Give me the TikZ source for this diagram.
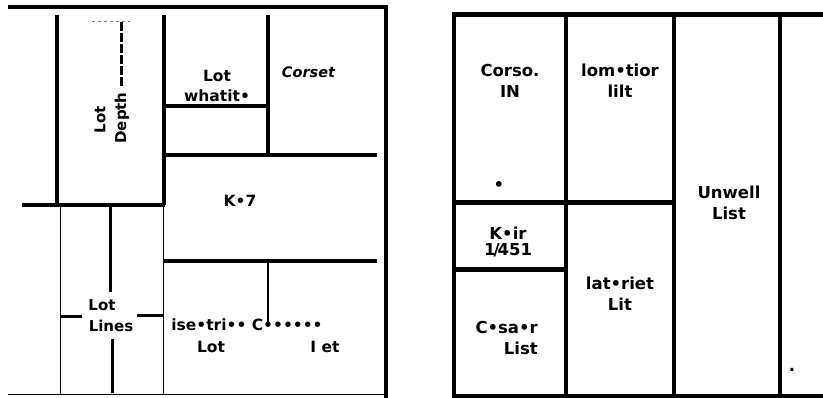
\documentclass[tikz,border=0pt]{standalone}
\usepackage{fontspec}
\setmainfont{DejaVu Sans}
\begin{document}
\begin{tikzpicture}[x=1pt,y=-1pt,
  wall/.style={line width=4pt},
  thinwall/.style={line width=0.9pt},
  stroke/.style={line width=3pt},
  rwall/.style={line width=4.5pt},
  lbl/.style={font=\fontsize{15.5}{20}\selectfont\bfseries,inner sep=0pt,align=center},
  rlbl/.style={font=\fontsize{16.5}{21}\selectfont\bfseries,inner sep=0pt,align=center},
  hand/.style={font=\fontsize{15}{15}\selectfont\bfseries,inner sep=0pt}]
\useasboundingbox (0,0) rectangle (823,398);
% left plan
\draw[wall] (8,7.5) -- (388,7.5);
\draw[wall] (386,5.5) -- (386,398);
\draw[thinwall] (8,394) -- (386,394);
\draw[wall] (57,15) -- (57,205);
\draw[wall] (163.5,15) -- (163.5,205);
\draw[wall] (22,205) -- (165,205);
\draw[thinwall] (60,205) -- (60,394);
\draw[thinwall] (163.5,205) -- (163.5,394);
\draw[wall] (163.5,106) -- (267.5,106);
\draw[wall] (267.5,15) -- (267.5,157);
\draw[wall] (163.5,155) -- (377,155);
\draw[wall] (163.5,261) -- (377,261);
\draw[line width=2pt] (267.5,261) -- (267.5,323);
% lot depth
\draw[line width=0.6pt,gray,dashed] (92,21) -- (130,21);
\draw[stroke,dash pattern=on 9pt off 2pt] (121.5,22) -- (121.5,87);
\node[hand,rotate=90] (depthlot) at (100,120) {Lot};
\node[hand,rotate=90] (depthtxt) at (122,118) {Depth};
% lot lines
\draw[stroke] (110,207) -- (110,292);
\draw[stroke] (112,339) -- (112,393);
\draw[stroke] (60,317) -- (82,317);
\draw[stroke] (137,316) -- (163,316);
\node[hand] (linelot) at (102,305) {Lot};
\node[hand] (linetxt) at (111,326) {Lines};
% left labels
\node[lbl] (whatit) at (217,86) {Lot\\whatit•};
\node[lbl,font=\fontsize{14.5}{20}\selectfont\bfseries\itshape] (corset) at (308.5,72.5) {Corset};
\node[lbl] (kseven) at (240,201) {K•7};
\node[lbl] (isetri) at (247,325) {ise•tri•• C••••••};
\node[lbl] (botlot) at (211,347) {Lot};
\node[lbl] (iet) at (325,347) {I et};
% right plan
\draw[rwall] (826,14.5) -- (454,14.5) -- (454,396) -- (826,396);
\draw[rwall] (566,14.5) -- (566,396);
\draw[rwall] (674,14.5) -- (674,396);
\draw[rwall] (780,14.5) -- (780,396);
\draw[rwall] (454,202.5) -- (674,202.5);
\draw[rwall] (454,269.5) -- (566,269.5);
% right labels
\node[rlbl] (corso) at (510,81) {Corso.\\IN};
\node[rlbl] (dot) at (499,186) {•};
\node[rlbl] (lomtior) at (620,81) {lom•tior\\lilt};
\node[rlbl] (unwell) at (729,203) {Unwell\\List};
\node[rlbl] (keir) at (508,242) {K•ir\\[-5pt]1\kern-2pt/\kern-2pt451};
\node[rlbl] (latriet) at (620,294) {lat•riet\\Lit};
\node[rlbl,align=right,anchor=east] (cesaer) at (538,338) {C•sa•r\\List};
\node[rlbl] (stop) at (792,370) {.};
\end{tikzpicture}
\end{document}
